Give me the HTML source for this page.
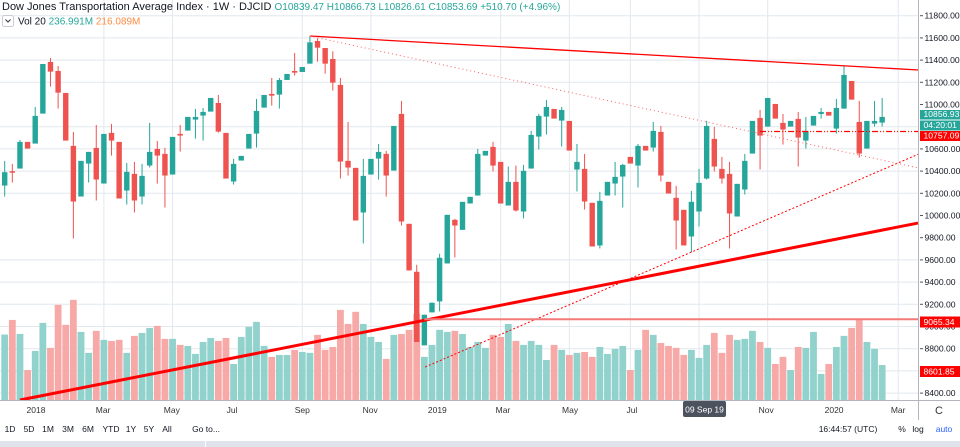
<!DOCTYPE html>
<html><head><meta charset="utf-8"><style>
body{margin:0;width:960px;height:447px;overflow:hidden;background:#fff;font-family:"Liberation Sans",sans-serif;}
svg{position:absolute;left:0;top:0}
text{font-family:"Liberation Sans",sans-serif}
</style></head><body>
<svg id="chart" width="960" height="447"></svg>
<script>
const opens=[10270,10399,10423,10663,10648,10918,11383,11302,11104,10627,10171,10468,10609,10288,10744,10663,10225,10375,10171,10450,10600,10555,10369,10735,10765,10864,10900,10936,11014,10744,10306,10495,10603,10738,10972,11095,11089,11221,11302,11293,11368,11572,11509,11410,11176,10492,10429,10027,10369,10513,10555,10405,10915,9925,9493,8830,9127,9226,9568,9961,9871,10108,10180,10540,10618,10483,10090,10303,10036,10423,10711,10891,10960,10855,10852,10414,10420,10114,9730,10180,10288,10351,10528,10450,10627,10612,10753,10303,10159,10051,9811,10036,10333,10690,10420,10375,9991,10234,10558,10879,10801,11005,10834,10801,10870,10675,10810,10915,10933,10783,10963,11212,10843,10603,10828,10837];
const closes=[10390,10387,10663,10603,10897,11365,11296,11107,10675,10126,10492,10573,10324,10735,10675,10153,10393,10135,10357,10573,10540,10360,10708,10720,10888,10888,10933,11059,10756,10333,10465,10537,10735,10942,11086,11080,11221,11275,11287,11338,11560,11512,11368,11197,10486,10432,9955,10357,10510,10573,10360,10807,9946,9505,8860,9106,9214,9619,10006,9910,10123,10168,10555,10582,10450,10108,10303,10045,10402,10726,10897,10978,10873,10951,10585,10483,10126,9721,10132,10303,10348,10456,10468,10627,10585,10762,10360,10198,9955,9730,10123,10294,10807,10441,10333,10018,10285,10492,10852,10720,11059,10873,10774,10852,10702,10762,10897,10933,10900,10969,11266,11044,10558,10852,10852,10888];
const highs=[10492,10465,10681,10663,10978,11365,11419,11347,11104,10753,10492,10573,10816,10735,10825,10663,10474,10483,10465,10834,10672,10609,10708,10816,10888,10960,10969,11059,11086,10744,10510,10537,10735,11050,11086,11239,11239,11275,11464,11338,11617,11596,11509,11479,11239,10843,10429,10510,10510,10645,10582,10807,11032,9925,9556,9106,9214,9655,10006,9970,10123,10168,10600,10582,10663,10483,10441,10450,10456,10762,10915,11041,10960,10978,10852,10645,10555,10114,10213,10303,10483,10465,10528,10645,10627,10843,10807,10303,10267,10051,10222,10420,10852,10798,10528,10483,10285,10555,10852,10951,11059,11005,10915,10852,10933,10888,10897,10969,10933,11050,11350,11212,11032,10852,11032,11059];
const lows=[10171,10297,10423,10603,10648,10918,11161,10963,10675,9793,10171,10297,10135,10288,10540,10153,10099,10027,10099,10432,10288,10072,10369,10576,10765,10693,10675,10936,10747,10333,10279,10495,10603,10612,10972,10990,10963,11221,11260,11293,11368,11386,11278,11125,10333,10360,9955,9748,10369,10324,10171,10405,9910,9505,8860,8830,9127,9136,9568,9622,9871,10108,10180,10540,10396,10108,10090,10036,9973,10423,10594,10729,10873,10621,10585,10216,10054,9721,9703,10180,10180,10072,10468,10252,10585,10576,10306,10198,9694,9730,9667,9901,10324,10396,10288,9703,9991,10189,10558,10414,10801,10873,10639,10801,10441,10603,10810,10873,10900,10738,10963,11044,10522,10603,10801,10801];
const volumes=[443,542,447,203,332,522,353,644,509,678,461,319,468,407,400,407,319,434,454,488,502,414,414,373,366,312,393,420,400,420,244,427,495,529,366,292,305,305,339,325,319,441,339,359,610,515,597,515,427,393,278,441,447,475,583,292,373,475,461,468,447,359,393,353,441,427,515,400,373,400,373,271,373,339,305,319,325,292,359,312,346,366,203,339,475,441,386,366,353,305,339,285,373,454,319,441,407,414,468,393,353,244,292,203,359,353,461,176,244,359,434,488,542,393,346,237];
const priceTicks=[11800,11600,11400,11200,11000,10800,10600,10400,10200,10000,9800,9600,9400,9200,9000,8800,8600,8400];
const timeLabels=["2018","Mar","May","Jul","Sep","Nov","2019","Mar","May","Jul","Sep","Nov","2020","Mar"];
const timeLabelIdx=[4.1,12.9,21.9,29.8,39,47.9,56.7,65.3,74.1,82.2,91,99.8,108.7,117.1];
const gridIdx=[13,22,39,48,65,74,82,91,100,117.1];
const trendThick=[[2,8338],[119.7,9932]];
const trendDashed=[[55.1,8635],[119.8,10554]];
const trendTop=[[40,11617],[119.8,11311]];
const trendDotted=[[40,11617],[119.8,10428]];
const hLine1=[99,10757.09];
const hLine2=[55,9065.34];

const svg=document.getElementById('chart');
const NS='http://www.w3.org/2000/svg';
const xC=i=>4.7+7.63*i;
const yP=p=>15.7+(11800-p)/200*22.2;
const yV=v=>400-v/6.77;
const UP='#26a69a',DN='#ef5350';
function mk(tag,attrs,parent){const e=document.createElementNS(NS,tag);for(const k in attrs)e.setAttribute(k,attrs[k]);(parent||svg).appendChild(e);return e;}

const grid=mk('g',{});


priceTicks.forEach(p=>{if(p===11000||p===10000||p===9800)return;mk('line',{x1:0,x2:918,y1:yP(p),y2:yP(p),stroke:'#e1e8ee','stroke-width':1},grid);});
gridIdx.forEach(i=>{mk('line',{x1:xC(i),x2:xC(i),y1:0,y2:400,stroke:'#e1e8ee','stroke-width':1},grid);});

const vg=mk('g',{});


volumes.forEach((v,i)=>{
  const r=mk('rect',{x:xC(i)-3.4,y:yV(v),width:6.8,height:400-yV(v),fill:closes[i]>=opens[i]?'#92d2cc':'#f7a9a7'},vg);
  
  
});

const cg=mk('g',{});


opens.forEach((o,i)=>{
  const c=closes[i],col=c>=o?UP:DN,x=xC(i);
  const g=mk('g',{},cg);
  
  
  mk('line',{x1:x,x2:x,y1:yP(highs[i]),y2:yP(lows[i]),stroke:col,'stroke-width':1},g);
  const t=yP(Math.max(o,c)),b=yP(Math.min(o,c));
  mk('rect',{x:x-2.7,y:t,width:5.4,height:Math.max(1.5,b-t),fill:col},g);
});

function tl(pts,attrs){return mk('line',Object.assign({x1:xC(pts[0][0]),y1:yP(pts[0][1]),x2:xC(pts[1][0]),y2:yP(pts[1][1])},attrs));}
const l1=tl(trendThick,{stroke:'#ff0000','stroke-width':3});


const l2=tl(trendDashed,{stroke:'#ff0000','stroke-width':1,'stroke-dasharray':'2,2'});


const l3=tl(trendTop,{stroke:'#ff0000','stroke-width':1.3});


const l4=tl(trendDotted,{stroke:'#ff6060','stroke-width':1,'stroke-dasharray':'1,3'});


const h1=mk('line',{x1:xC(hLine1[0]),x2:918,y1:yP(hLine1[1]),y2:yP(hLine1[1]),stroke:'#ff0000','stroke-width':1.3,'stroke-dasharray':'6,2,1,2,1,2'});


const h2=mk('line',{x1:xC(hLine2[0]),x2:918,y1:yP(hLine2[1]),y2:yP(hLine2[1]),stroke:'#f47a7a','stroke-width':2});



const ax=mk('g',{});


mk('rect',{x:918,y:0,width:42,height:400,fill:'#fff'},ax);
priceTicks.forEach(p=>{
  mk('line',{x1:920,x2:923,y1:yP(p),y2:yP(p),stroke:'#555','stroke-width':1},ax);
  const t=mk('text',{x:924.5,y:yP(p)+3,'font-size':8.6,fill:'#131722'},ax);
  t.textContent=p.toFixed(2);
  
  
});
function tag(y,h,bg,txt,name){const g=mk('g',{},ax);mk('rect',{x:920,y:y,width:40,height:h,fill:bg},g);const t=mk('text',{x:923.5,y:y+h-2.3,'font-size':8.6,fill:'#fff'},g);t.textContent=txt;}
tag(110,9.5,UP,'10856.93','last-price-tag');
tag(120.5,10,UP,'04:20:01','countdown-tag');
tag(131,10,'#ff0000','10757.09','level-tag-10757');
tag(316.5,11,'#ff0000','9065.34','level-tag-9065');
tag(366,11,'#ff0000','8601.85','level-tag-8601');

const ta=mk('g',{});


mk('rect',{x:0,y:400,width:960,height:20,fill:'#fff'},ta);
mk('line',{x1:0,x2:960,y1:400.5,y2:400.5,stroke:'#b2b5be'},ta);
mk('line',{x1:918.5,x2:918.5,y1:0,y2:420,stroke:'#b2b5be'},ta);
timeLabels.forEach((s,i)=>{
  if(i===10)return;
  const t=mk('text',{x:xC(timeLabelIdx[i]),y:413,'font-size':8.5,fill:'#333','text-anchor':'middle'},ta);
  t.textContent=s;
  
  
});
mk('rect',{x:683,y:401,width:43,height:16,rx:2,fill:'#4c525e'},ta);
const ct=mk('text',{x:704.5,y:412.5,'font-size':8.5,fill:'#fff','text-anchor':'middle'},ta);
ct.textContent='09 Sep 19';


const gear=mk('text',{x:939,y:414,'font-size':11,fill:'#333','text-anchor':'middle'},ta);
gear.textContent='C';



mk('rect',{x:0,y:441,width:960,height:6,fill:'#e0e3eb'});
mk('line',{x1:205.5,x2:205.5,y1:441,y2:447,stroke:'#fff'});
const ranges=[['1D',10],['5D',29],['1M',48],['3M',68],['6M',88],['YTD',111],['1Y',131],['5Y',149],['All',167],['Go to...',206]];
ranges.forEach(r=>{
  const t=mk('text',{x:r[1],y:432,'font-size':8.5,fill:'#131722','text-anchor':'middle'});
  t.textContent=r[0];
  
  
});
[['16:44:57 (UTC)',848,'#131722','clock'],['%',902,'#131722','percent-toggle'],['log',918,'#131722','log-toggle'],['auto',944,'#2962ff','auto-toggle']].forEach(r=>{
  const t=mk('text',{x:r[1],y:432,'font-size':8.5,fill:r[2],'text-anchor':'middle'});
  t.textContent=r[0];
  
  
});

const h=mk('text',{x:2,y:10,'font-size':11,fill:'#131722'});


h.textContent='Dow Jones Transportation Average Index · 1W · DJCID ';
const ohlc=mk('tspan',{fill:UP,'font-size':10},h);
ohlc.textContent=' O10839.47 H10866.73 L10826.61 C10853.69 +510.70 (+4.96%)';
const dd=mk('rect',{x:2.5,y:15.5,width:11,height:11,rx:2,fill:'#fff',stroke:'#c8cbd3'});


mk('path',{d:'M5.5 19.5 L8 22 L10.5 19.5',fill:'none',stroke:'#333','stroke-width':1});
const vl=mk('text',{x:18,y:24.5,'font-size':10,fill:'#131722'});


vl.textContent='Vol 20 ';
const v1=mk('tspan',{fill:UP},vl);v1.textContent=' 236.991M ';
const v2=mk('tspan',{fill:'#ff8c42'},vl);v2.textContent=' 216.089M';
</script>
</body></html>
